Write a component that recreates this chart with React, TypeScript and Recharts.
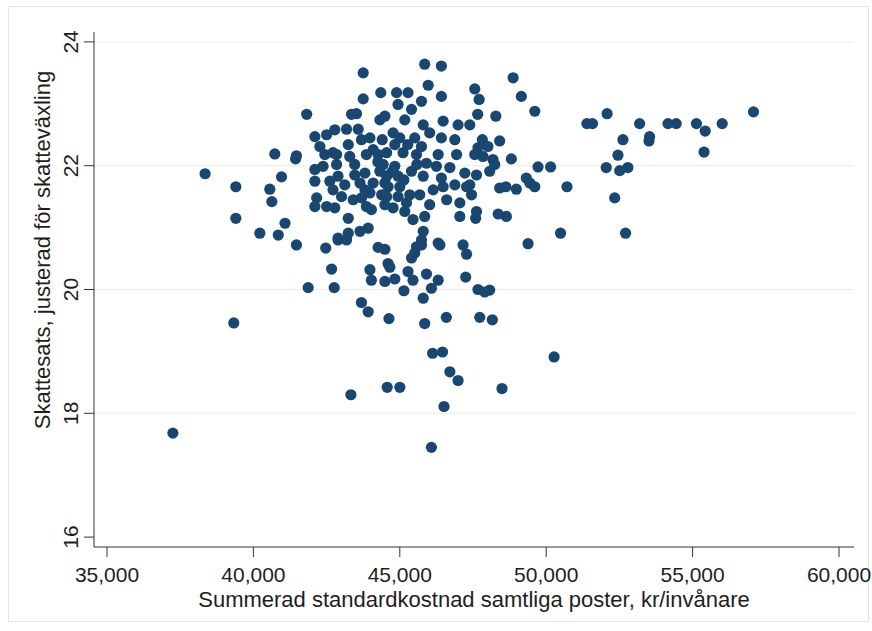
import { ScatterChart, Scatter, XAxis, YAxis, ReferenceLine, Label } from 'recharts'

// Summerad standardkostnad (kr/invånare), one entry per kommun
const cost = [
  40730, 41440, 38350, 40960, 39400, 40560, 40630, 39400, 41080, 40220, 40850, 41470, 39330, 37250,
  43750, 44350, 43750, 41820, 43350, 43520, 42100, 42500, 42780, 43180, 43580, 43980, 44320, 44490,
  41470, 42270, 42720, 43240, 43690, 44090, 44400,
  45850, 46420, 45970, 46420, 47560, 44890, 45280, 45740, 44940, 45400, 45170, 46480, 46990, 47390,
  47660, 45800, 46020, 44770, 45000, 45510, 46420, 46880, 45740, 44550, 45110, 45570, 46310, 46940, 47560,
  48870, 49150, 47710, 49610, 48280, 47820, 48410, 48010, 47670, 47840, 48810, 48180, 48240, 48070,
  47620, 49720, 50150, 47390, 48410, 48620, 48980, 49320, 49440, 49610, 50710, 47450, 47620, 47590,
  48360, 48640, 50490, 49380,
  51390, 51580, 52080, 53190, 52620, 53530, 53510, 54160, 54440, 55130, 55430, 56010, 57080, 55390,
  52450, 52050, 52510, 52790, 52340, 52710,
  42470, 42890, 43180, 42670, 41870, 42760, 44260, 44490, 44600, 44660, 43980, 44030, 44490, 44830,
  43690, 43920, 44630, 45280, 45400, 45510, 45570, 45740, 45450, 45140, 45910, 46310, 46080, 45800,
  45850, 46590, 46370, 47160, 47280, 47250, 47670, 47730, 46120, 46460, 46710, 46990, 43330, 44570,
  45000, 46510, 46080, 47900, 48070, 48160, 50270, 48490,
  42100, 42380, 42840, 42440, 42840, 43290, 43860, 44260, 42100, 42610, 42890, 43460, 43810, 43640,
  44090, 44320, 44490, 42720, 43010, 43980, 44380, 42160, 42100, 42500, 42780, 43410, 43690, 43860,
  44030, 44490, 43240, 42890, 43240, 43640, 43920,
  44430, 44830, 45910, 46250, 47220, 44550, 44940, 45400, 45800, 46420, 44600, 45000, 46140, 46480,
  46880, 47280, 44550, 44940, 45230, 47050, 44770, 45170, 45450, 45850, 47050, 45800, 45740, 46310,
  44250, 44730, 45140, 45580, 45270, 44830, 45340, 45680, 46020, 46600, 46710, 43810, 43120, 43460,
]

// Skattesats, justerad för skatteväxling (%)
const rate = [
  22.19, 22.11, 21.87, 21.82, 21.66, 21.62, 21.42, 21.15, 21.07, 20.91, 20.88, 20.72, 19.46, 17.68,
  23.5, 23.18, 23.08, 22.83, 22.83, 22.84, 22.47, 22.5, 22.58, 22.59, 22.59, 22.45, 22.74, 22.8,
  22.16, 22.31, 22.21, 22.34, 22.42, 22.26, 22.42,
  23.64, 23.61, 23.3, 23.12, 23.24, 23.18, 23.18, 23.04, 22.99, 22.91, 22.74, 22.72, 22.66, 22.66,
  22.83, 22.66, 22.53, 22.53, 22.45, 22.45, 22.45, 22.42, 22.31, 22.21, 22.21, 22.18, 22.18, 22.18, 22.18,
  23.42, 23.12, 23.07, 22.88, 22.8, 22.42, 22.4, 22.31, 22.29, 22.15, 22.11, 22.1, 22.02, 21.91,
  21.85, 21.98, 21.98, 21.69, 21.64, 21.66, 21.62, 21.8, 21.72, 21.66, 21.66, 21.53, 21.26, 21.15,
  21.22, 21.18, 20.91, 20.74,
  22.68, 22.68, 22.84, 22.68, 22.42, 22.47, 22.4, 22.68, 22.68, 22.68, 22.56, 22.68, 22.87, 22.22,
  22.17, 21.97, 21.92, 21.97, 21.48, 20.91,
  20.67, 20.8, 20.8, 20.33, 20.03, 20.03, 20.68, 20.65, 20.42, 20.36, 20.32, 20.15, 20.13, 20.17,
  19.79, 19.64, 19.53, 20.29, 20.51, 20.59, 20.69, 20.72, 20.15, 19.98, 20.25, 20.15, 20.02, 19.86,
  19.45, 19.55, 20.72, 20.72, 20.57, 20.2, 20.0, 19.55, 18.97, 18.99, 18.67, 18.53, 18.3, 18.42,
  18.42, 18.11, 17.45, 19.96, 19.99, 19.51, 18.91, 18.4,
  21.94, 21.99, 22.02, 22.18, 22.18, 22.15, 22.18, 22.18, 21.75, 21.75, 21.83, 21.85, 21.88, 21.72,
  21.72, 21.91, 21.72, 21.61, 21.5, 21.56, 21.53, 21.48, 21.34, 21.34, 21.32, 21.45, 21.48, 21.34,
  21.29, 21.37, 21.15, 20.83, 20.91, 20.94, 20.99,
  22.02, 21.99, 22.04, 21.99, 21.88, 21.83, 21.83, 21.91, 21.83, 21.8, 21.66, 21.66, 21.61, 21.66,
  21.69, 21.66, 21.5, 21.5, 21.4, 21.4, 21.32, 21.26, 21.13, 21.18, 21.18, 20.94, 20.8, 20.75,
  22.06, 21.9, 21.77, 22.02, 22.34, 22.34, 21.53, 21.53, 21.37, 21.45, 21.97, 21.61, 21.69, 22.02,
]

const xTicks = [35000, 40000, 45000, 50000, 55000, 60000]
const yTicks = [16, 18, 20, 22, 24]
const gridLines = [18, 20, 22, 24]

const points = cost.map((c, i) => ({ cost: c, rate: rate[i] }))

const FONT = '"Liberation Sans", Arial, Helvetica, sans-serif'
const NAVY = '#1a476f'
const TEXT = '#1e1e1e'

const fmt = (v: number) => v.toLocaleString('en-US')

function XTick({ x, y, payload }: any) {
  return (
    <text x={x} y={y + 23} textAnchor="middle" fontSize={21} fontFamily={FONT} fill={TEXT}>
      {fmt(payload.value)}
    </text>
  )
}

function YTick({ x, y, payload }: any) {
  return (
    <text transform={`translate(${x - 6},${y}) rotate(-90)`} textAnchor="middle" fontSize={21} fontFamily={FONT} fill={TEXT}>
      {payload.value}
    </text>
  )
}

function XTitle({ viewBox }: any) {
  return (
    <text x={viewBox.x + viewBox.width / 2} y={607} textAnchor="middle" fontSize={22} fontFamily={FONT} fill={TEXT}>
      Summerad standardkostnad samtliga poster, kr/invånare
    </text>
  )
}

function YTitle() {
  return (
    <text transform="translate(50,250) rotate(-90)" textAnchor="middle" fontSize={22} fontFamily={FONT} fill={TEXT}>
      Skattesats, justerad för skatteväxling
    </text>
  )
}

const Dot = (p: any) => <circle cx={p.cx} cy={p.cy} r={5.6} fill={NAVY} />

export default function App() {
  return (
    <div style={{ position: 'absolute', left: 0, top: 0, width: 872, height: 631, background: '#fff' }}>
      <div style={{ position: 'absolute', left: 8, top: 6, width: 859, height: 614, border: '1px solid #e4e4e4' }} />
      <ScatterChart width={872} height={631} margin={{ top: 32, right: 18, bottom: 0, left: 0 }}>
        {gridLines.map((g) => (
          <ReferenceLine key={g} y={g} stroke="#ebebeb" strokeWidth={1} />
        ))}
        <XAxis
          type="number"
          dataKey="cost"
          domain={[34556, 60512]}
          ticks={xTicks}
          tick={<XTick />}
          tickSize={10}
          height={84}
          stroke="#333"
          tickLine={{ stroke: '#333' }}
          allowDataOverflow
        >
          <Label content={<XTitle />} />
        </XAxis>
        <YAxis
          type="number"
          dataKey="rate"
          domain={[15.84, 24.16]}
          ticks={yTicks}
          tick={<YTick />}
          tickSize={10}
          tickMargin={0}
          width={94}
          stroke="#333"
          tickLine={{ stroke: '#333' }}
          allowDataOverflow
        >
          <Label content={<YTitle />} />
        </YAxis>
        <Scatter data={points} shape={Dot} isAnimationActive={false} />
      </ScatterChart>
    </div>
  )
}
